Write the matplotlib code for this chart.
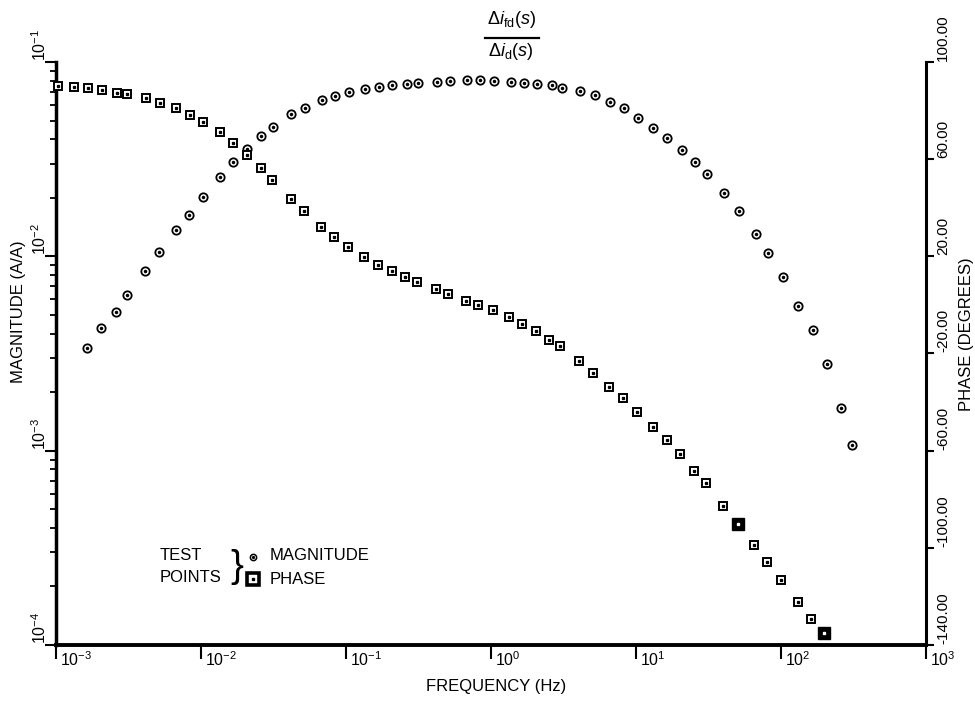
import matplotlib
matplotlib.use("Agg")
import matplotlib.pyplot as plt
from matplotlib.lines import Line2D
from matplotlib.transforms import offset_copy

plt.rcParams["font.family"] = ["Liberation Sans", "DejaVu Sans"]
plt.rcParams["mathtext.fontset"] = "custom"
plt.rcParams["mathtext.rm"] = "Liberation Sans"
plt.rcParams["mathtext.it"] = "Liberation Sans:italic"
plt.rcParams["mathtext.bf"] = "Liberation Sans:bold"

# magnitude test points (Hz, A/A)
mag_freq = [1.63e-3, 2.04e-3, 2.58e-3, 3.07e-3, 4.11e-3, 5.15e-3, 6.69e-3, 8.30e-3,
            1.04e-2, 1.35e-2, 1.67e-2, 2.08e-2, 2.60e-2, 3.12e-2, 4.16e-2, 5.21e-2,
            6.79e-2, 8.39e-2, 0.105, 0.135, 0.169, 0.208, 0.263, 0.312, 0.423, 0.521,
            0.679, 0.839, 1.05, 1.37, 1.70, 2.07, 2.62, 3.10, 4.11, 5.21, 6.62, 8.30,
            10.4, 13.2, 16.3, 20.7, 25.5, 31.0, 40.5, 51.5, 67.3, 81.7, 104, 132,
            166, 207, 258, 307]
mag = [3.38e-3, 4.28e-3, 5.18e-3, 6.34e-3, 8.44e-3, 1.05e-2, 1.36e-2, 1.64e-2,
       2.03e-2, 2.56e-2, 3.05e-2, 3.57e-2, 4.15e-2, 4.62e-2, 5.37e-2, 5.81e-2,
       6.34e-2, 6.68e-2, 7.00e-2, 7.23e-2, 7.46e-2, 7.58e-2, 7.67e-2, 7.79e-2,
       7.88e-2, 7.95e-2, 8.04e-2, 8.04e-2, 7.98e-2, 7.91e-2, 7.82e-2, 7.73e-2,
       7.58e-2, 7.37e-2, 7.08e-2, 6.75e-2, 6.21e-2, 5.77e-2, 5.16e-2, 4.58e-2,
       4.07e-2, 3.54e-2, 3.05e-2, 2.66e-2, 2.11e-2, 1.71e-2, 1.31e-2, 1.045e-2,
       7.85e-3, 5.55e-3, 4.17e-3, 2.78e-3, 1.66e-3, 1.075e-3]

# phase test points (Hz, degrees)
phase_freq = [1.04e-3, 1.34e-3, 1.67e-3, 2.06e-3, 2.62e-3, 3.10e-3, 4.18e-3, 5.21e-3,
              6.72e-3, 8.39e-3, 1.04e-2, 1.35e-2, 1.65e-2, 2.08e-2, 2.58e-2, 3.10e-2,
              4.16e-2, 5.15e-2, 6.72e-2, 8.26e-2, 0.103, 0.134, 0.167, 0.207, 0.255,
              0.310, 0.416, 0.508, 0.672, 0.817, 1.03, 1.34, 1.64, 2.03, 2.52, 3.01,
              4.06, 5.08, 6.54, 8.17, 10.1, 13.2, 16.3, 20.1, 25.1, 30.4, 40.0, 50.3,
              65.1, 80.4, 99.5, 130, 160, 199]
phase = [90.1, 89.7, 89.2, 88.5, 87.3, 86.7, 85.0, 83.0, 81.2, 78.0,
         75.3, 71.1, 66.7, 61.9, 56.4, 51.6, 43.8, 38.6, 32.1, 28.0,
         23.8, 19.7, 16.6, 13.8, 11.3, 9.4, 6.7, 4.6, 1.8, -0.1,
         -2.0, -5.0, -7.8, -10.9, -14.4, -17.1, -23.0, -28.1, -33.6, -38.4,
         -43.9, -50.1, -55.6, -61.5, -68.3, -73.5, -82.8, -90.0, -98.9, -105.8,
         -113.3, -122.3, -129.2, -135.1]
phase_marked = [47, 53]   # points printed as solid squares

x_decades = [-3, -2, -1, 0, 1, 2, 3]
y_decades = [-4, -3, -2, -1]
phase_ticks = [-140, -100, -60, -20, 20, 60, 100]

W, H = 975, 702


def px(x, y):
    return x / W, 1 - y / H


fig = plt.figure(figsize=(W / 100, H / 100), dpi=100)
l, b = px(56, 645)
r, t = px(926, 62)
ax = fig.add_axes([l, b, r - l, t - b])
ax2 = ax.twinx()

ax.set_xscale("log")
ax.set_yscale("log")
ax.set_xlim(1e-3, 1e3)
ax.set_ylim(1e-4, 1e-1)
ax2.set_ylim(-140, 100)

# magnitude: open circle with centre dot
ax.plot(mag_freq, mag, ls="none", marker="o", ms=6, mfc="white", mec="black",
        mew=1.3, clip_on=False, zorder=3)
ax.plot(mag_freq, mag, ls="none", marker="o", ms=1.5, mfc="black", mec="black",
        clip_on=False, zorder=4)

# phase: open square with centre dot, a couple printed solid
pf_open = [f for i, f in enumerate(phase_freq) if i not in phase_marked]
p_open = [p for i, p in enumerate(phase) if i not in phase_marked]
pf_solid = [phase_freq[i] for i in phase_marked]
p_solid = [phase[i] for i in phase_marked]
ax2.plot(pf_open, p_open, ls="none", marker="s", ms=5.5, mfc="white", mec="black",
         mew=1.4, clip_on=False, zorder=3)
ax2.plot(pf_open, p_open, ls="none", marker="s", ms=1.4, mfc="black", mec="black",
         clip_on=False, zorder=4)
ax2.plot(pf_solid, p_solid, ls="none", marker="s", ms=8, mfc="black", mec="black",
         clip_on=False, zorder=3)
ax2.plot(pf_solid, p_solid, ls="none", marker="s", ms=2, mfc="white", mec="white",
         clip_on=False, zorder=4)

# axes frame
for s in ["top", "right"]:
    ax.spines[s].set_visible(False)
for s in ["top", "left", "bottom"]:
    ax2.spines[s].set_visible(False)
ax.spines["left"].set_linewidth(2.5)
ax.spines["bottom"].set_linewidth(2.8)
ax2.spines["right"].set_linewidth(2.2)

ax.tick_params(axis="both", which="both", direction="out", color="black",
               labelbottom=False, labelleft=False)
ax.tick_params(axis="x", which="major", length=10, width=1.5)
ax.tick_params(axis="x", which="minor", length=5, width=1.3)
ax.tick_params(axis="y", which="major", length=8, width=1.5)
ax.tick_params(axis="y", which="minor", length=4, width=1.3)
ax2.set_yticks(phase_ticks)
ax2.minorticks_off()
ax2.tick_params(axis="y", direction="out", length=6, width=1.5, labelright=False)

# tick labels
xtr = offset_copy(ax.get_xaxis_transform(), fig=fig, x=4, y=-5, units="dots")
for e in x_decades:
    ax.text(10.0 ** e, 0, rf"$10^{{{e}}}$", transform=xtr, ha="left", va="top",
            fontsize=11.5)
ytr = offset_copy(ax.get_yaxis_transform(), fig=fig, x=-16, y=1, units="dots")
for e in y_decades:
    ax.text(0, 10.0 ** e, rf"$10^{{{e}}}$", transform=ytr, rotation=90,
            ha="center", va="bottom", fontsize=11.5)
ptr = offset_copy(ax2.get_yaxis_transform(), fig=fig, x=17, y=1, units="dots")
for v in phase_ticks:
    ax2.text(1, v, f"{v:.2f}", transform=ptr, rotation=90, ha="center",
             va="bottom", fontsize=11)

# axis titles
fig.text(*px(19, 312), "MAGNITUDE (A/A)", rotation=90, ha="center", va="center",
         fontsize=12)
fig.text(*px(966, 334), "PHASE (DEGREES)", rotation=90, ha="center", va="center",
         fontsize=12)
fig.text(*px(496, 687), "FREQUENCY (Hz)", ha="center", va="center", fontsize=12)

# transfer function heading
fig.text(*px(511, 20), r"$\Delta i_{\mathrm{fd}}(s)$", ha="center", va="center",
         fontsize=13)
fig.add_artist(Line2D([485 / W, 539 / W], [1 - 38 / H] * 2,
                      transform=fig.transFigure, color="black", lw=1.6))
fig.text(*px(511, 52), r"$\Delta i_{\mathrm{d}}(s)$", ha="center", va="center",
         fontsize=13)

# key
fig.text(*px(160, 556), "TEST", ha="left", va="center", fontsize=12)
fig.text(*px(160, 578), "POINTS", ha="left", va="center", fontsize=12)
fig.text(*px(237, 567), "}", ha="center", va="center", fontsize=28,
         fontweight="light")
fig.add_artist(Line2D([253 / W], [1 - 557 / H], transform=fig.transFigure,
                      marker="o", ms=4.5, mfc="white", mec="black", mew=1.1))
fig.add_artist(Line2D([253 / W], [1 - 557 / H], transform=fig.transFigure,
                      marker="o", ms=1.3, mfc="black", mec="black"))
fig.add_artist(Line2D([253 / W], [1 - 579 / H], transform=fig.transFigure,
                      marker="s", ms=8.5, mfc="white", mec="black", mew=2.6))
fig.add_artist(Line2D([253 / W], [1 - 579 / H], transform=fig.transFigure,
                      marker="s", ms=1.6, mfc="black", mec="black"))
fig.text(*px(270, 556), "MAGNITUDE", ha="left", va="center", fontsize=12)
fig.text(*px(270, 579), "PHASE", ha="left", va="center", fontsize=12)

fig.savefig("out.png", dpi=100)
